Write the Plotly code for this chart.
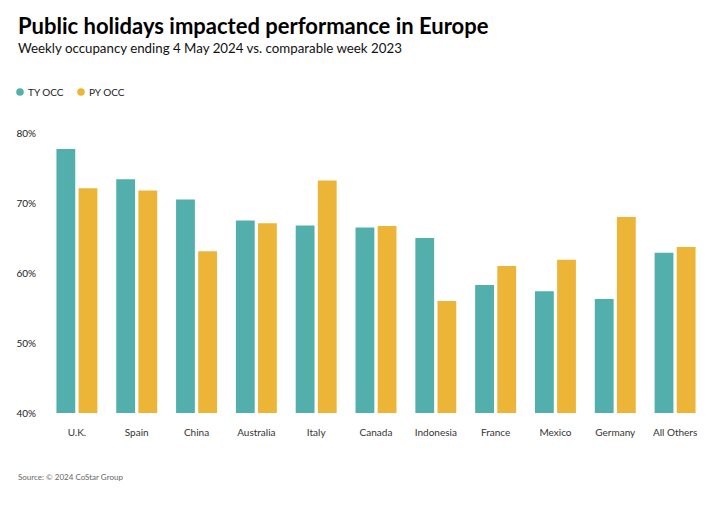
import plotly.graph_objects as go

categories = ["U.K.", "Spain", "China", "Australia", "Italy", "Canada",
              "Indonesia", "France", "Mexico", "Germany", "All Others"]
ty_occ = [77.7, 73.4, 70.5, 67.5, 66.8, 66.5, 65.0, 58.3, 57.4, 56.3, 62.9]
py_occ = [72.1, 71.8, 63.1, 67.1, 73.2, 66.7, 56.0, 61.0, 61.9, 68.0, 63.7]
y_ticks = [40, 50, 60, 70, 80]
y_tick_labels = ["40%", "50%", "60%", "70%", "80%"]
series_names = ["TY OCC", "PY OCC"]

TEAL = "#52AFAC"
GOLD = "#EDB537"
FONT = "Lato, 'Noto Sans', sans-serif"

# page body adds an 8px offset; positions below are in window pixels
OFF = 8
W, H = 716, 505
L, R, T, B = 47 - OFF, 716 - (705 - OFF), 133 - OFF, 505 - (413 - OFF)
PW, PH = W - L - R, H - T - B


def px(x):
    return (x - OFF - L) / PW


def py(y):
    return 1 - (y - OFF - T) / PH


fig = go.Figure()
fig.add_trace(go.Bar(x=categories, y=ty_occ, name=series_names[0], marker_color=TEAL,
                     marker_line_width=0))
fig.add_trace(go.Bar(x=categories, y=py_occ, name=series_names[1], marker_color=GOLD,
                     marker_line_width=0))

fig.update_layout(
    width=W, height=H,
    margin=dict(l=L, r=R, t=T, b=B, autoexpand=False),
    paper_bgcolor="white", plot_bgcolor="white",
    font=dict(family=FONT, color="#222222", size=10),
    barmode="group", bargap=0.26, bargroupgap=0.15,
    showlegend=False,
    xaxis=dict(showgrid=False, showline=False, ticks="", zeroline=False,
               tickfont=dict(size=10, color="#333333"), ticklabelstandoff=12,
               automargin=False),
    yaxis=dict(range=[40, 80], tickvals=y_ticks, ticktext=y_tick_labels,
               showgrid=False, zeroline=False, showline=False, ticks="",
               tickfont=dict(size=10, color="#222222"), ticklabelstandoff=10,
               automargin=False),
)

fig.add_annotation(text="<b>Public holidays impacted performance in Europe</b>",
                   x=px(16), y=py(25), xref="paper", yref="paper",
                   showarrow=False, xanchor="left", yanchor="middle",
                   font=dict(size=22, color="#000000", family=FONT))
fig.add_annotation(text="Weekly occupancy ending 4 May 2024 vs. comparable week 2023",
                   x=px(16), y=py(48), xref="paper", yref="paper",
                   showarrow=False, xanchor="left", yanchor="middle",
                   font=dict(size=13.3, color="#111111", family=FONT))
fig.add_annotation(text="Source: © 2024 CoStar Group",
                   x=px(16), y=py(477), xref="paper", yref="paper",
                   showarrow=False, xanchor="left", yanchor="middle",
                   font=dict(size=8, color="#666666", family=FONT))

# custom legend with circle markers
legend_items = [(series_names[0], TEAL, 20), (series_names[1], GOLD, 81)]
for name, color, cx in legend_items:
    fig.add_shape(type="circle", xref="paper", yref="paper",
                  x0=px(cx - 3.8), x1=px(cx + 3.8), y0=py(92 + 3.8), y1=py(92 - 3.8),
                  fillcolor=color, line_width=0)
    fig.add_annotation(text=name, x=px(cx + 6), y=py(92), xref="paper", yref="paper",
                       showarrow=False, xanchor="left", yanchor="middle",
                       font=dict(size=10, color="#222222", family=FONT))

fig.write_html("out.html")
